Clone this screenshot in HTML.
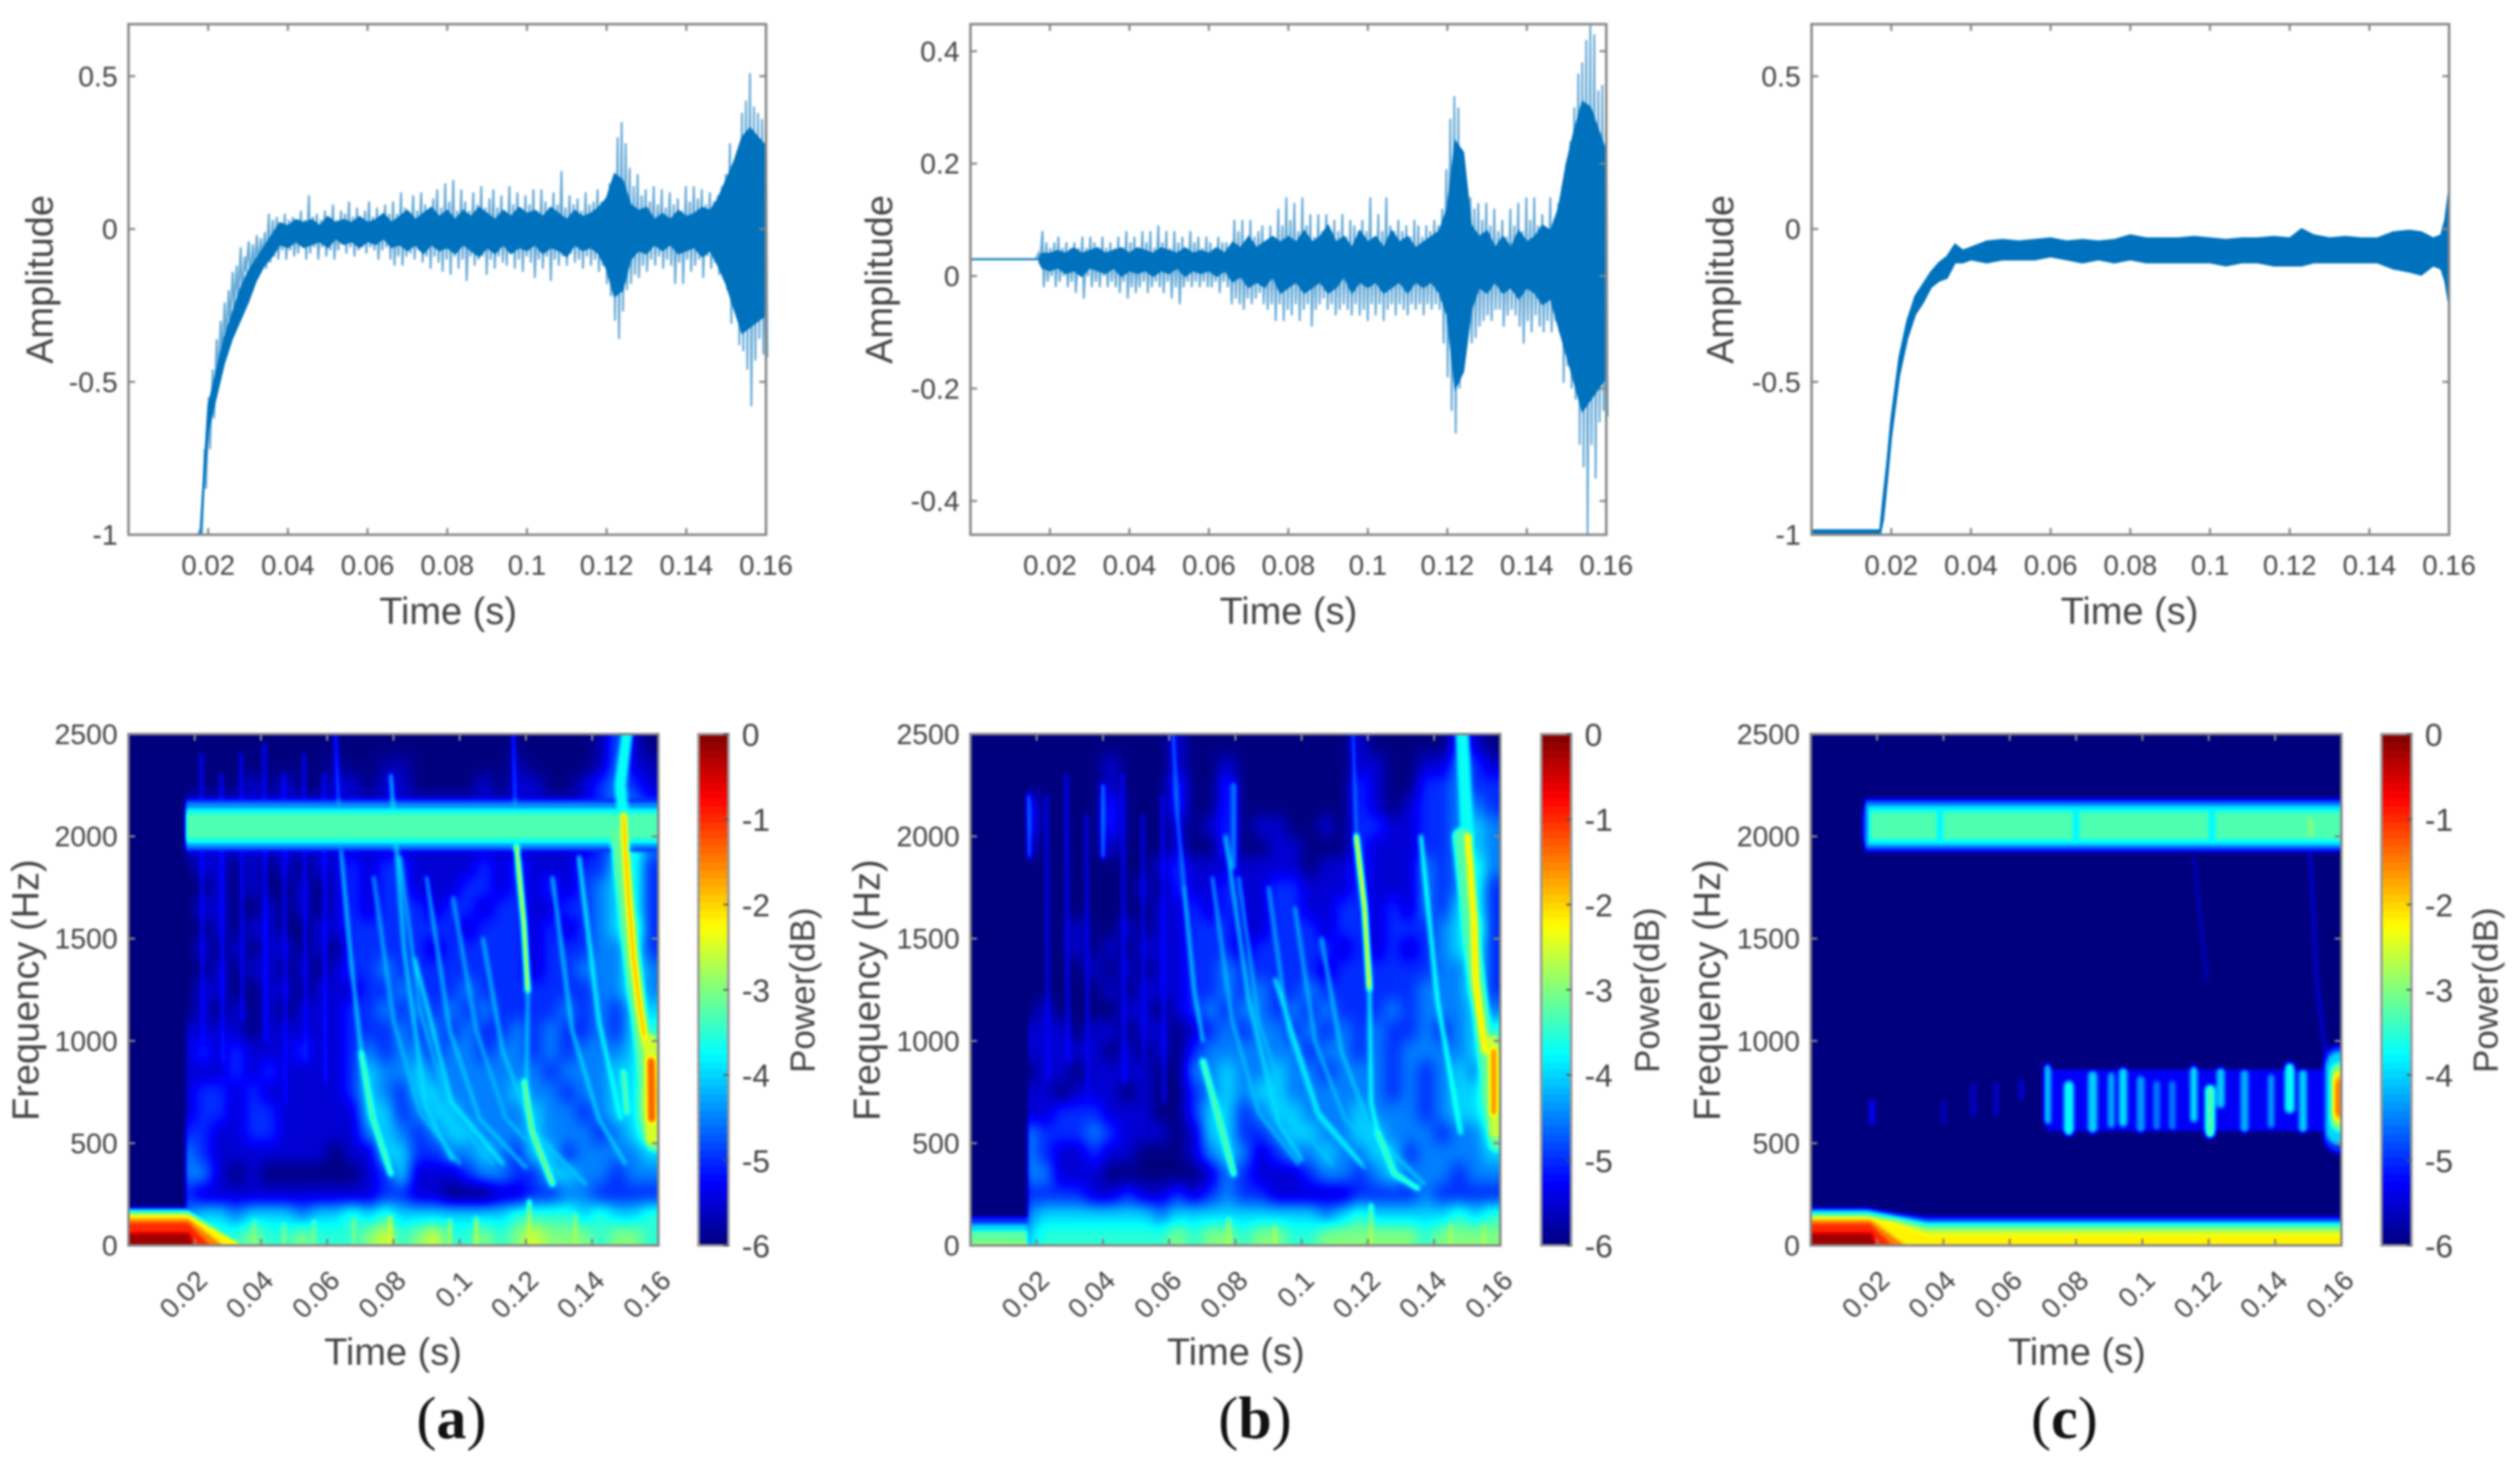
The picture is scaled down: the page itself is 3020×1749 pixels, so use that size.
<!DOCTYPE html>
<html><head><meta charset="utf-8"><title>Waveforms and spectrograms</title>
<style>
html,body{margin:0;padding:0;background:#fff}
#figure{display:block;filter:blur(1.4px)}
text{font-family:"Liberation Sans",sans-serif;fill:#444}
.title{font-size:45.5px;text-anchor:middle}
.power{font-size:42px;text-anchor:middle}
.cap{font-family:"Liberation Serif",serif;font-size:72px;text-anchor:middle;fill:#111}
.cap tspan{font-family:"Liberation Serif",serif;font-weight:bold;fill:#111}
</style></head>
<body>
<svg id="figure" xmlns="http://www.w3.org/2000/svg" width="3020" height="1749" viewBox="0 0 3020 1749">
<rect width="3020" height="1749" fill="#fff"/>
<defs id="defs"></defs>
<g id="plots"></g>
<text class="title" transform="translate(63,335) rotate(-90)">Amplitude</text>
<text class="title" transform="translate(1069,335) rotate(-90)">Amplitude</text>
<text class="title" transform="translate(2077,335) rotate(-90)">Amplitude</text>
<text class="title" x="537" y="748">Time (s)</text>
<text class="title" x="1544" y="748">Time (s)</text>
<text class="title" x="2552" y="748">Time (s)</text>
<text class="title" transform="translate(46,1187) rotate(-90)">Frequency (Hz)</text>
<text class="title" transform="translate(1054,1187) rotate(-90)">Frequency (Hz)</text>
<text class="title" transform="translate(2061,1187) rotate(-90)">Frequency (Hz)</text>
<text class="title" x="471" y="1636">Time (s)</text>
<text class="title" x="1481" y="1636">Time (s)</text>
<text class="title" x="2489" y="1636">Time (s)</text>
<text class="power" transform="translate(976,1187) rotate(-90)">Power(dB)</text>
<text class="power" transform="translate(1988,1187) rotate(-90)">Power(dB)</text>
<text class="power" transform="translate(2993,1187) rotate(-90)">Power(dB)</text>
<text class="cap" x="541" y="1724">(<tspan>a</tspan>)</text>
<text class="cap" x="1504" y="1724">(<tspan>b</tspan>)</text>
<text class="cap" x="2474" y="1724">(<tspan>c</tspan>)</text>
</svg>
<script>
const timeTicks=[0.02,0.04,0.06,0.08,0.1,0.12,0.14,0.16];
const timeTickLabels=['0.02','0.04','0.06','0.08','0.1','0.12','0.14','0.16'];
const ampTicksAC=[-1,-0.5,0,0.5];
const ampLabelsAC=['-1','-0.5','0','0.5'];
const ampTicksB=[-0.4,-0.2,0,0.2,0.4];
const ampLabelsB=['-0.4','-0.2','0','0.2','0.4'];
const freqTicks=[0,500,1000,1500,2000,2500];
const freqLabels=['0','500','1000','1500','2000','2500'];
const powerTicks=[0,-1,-2,-3,-4,-5,-6];
const powerLabels=['0','-1','-2','-3','-4','-5','-6'];

const upperA=[-1,-1,-1,-1,-1,-1,-1,-1,-1,-1,-1,-1,-1,-1,-1,-1,-1,-1,
-.98,-.72,-.55,-.46,-.36,-.3,-.24,-.2,-.14,-.12,
-.06,-.09,-.04,-.05,-.02,-.03,-.01,.05,.03,.04,
.02,.05,.03,.04,.02,.06,.03,.11,.04,.05,
.03,.06,.03,.08,.03,.06,.05,.09,.04,.07,
.03,.06,.09,.04,.07,.04,.08,.05,.09,.05,
.12,.07,.05,.11,.06,.12,.08,.05,.1,.13,
.07,.15,.09,.16,.06,.13,.09,.06,.12,.08,
.14,.07,.1,.13,.07,.11,.06,.14,.08,.12,
.07,.11,.08,.13,.06,.13,.09,.07,.12,.08,
.19,.07,.11,.08,.1,.06,.12,.08,.09,.13,
.09,.1,.15,.17,.3,.35,.28,.2,.14,.18,
.11,.13,.09,.14,.08,.13,.07,.12,.08,.1,
.06,.14,.09,.14,.1,.13,.08,.12,.09,.11,
.14,.18,.28,.2,.26,.38,.42,.51,.4,.38,.36,.42];
const lowerA=[-1,-1,-1,-1,-1,-1,-1,-1,-1,-1,-1,-1,-1,-1,-1,-1,-1,-1,
-1,-.85,-.72,-.62,-.5,-.42,-.38,-.32,-.26,-.24,
-.22,-.14,-.17,-.14,-.12,-.1,-.13,-.11,-.09,-.1,
-.07,-.1,-.07,-.09,-.08,-.06,-.1,-.08,-.06,-.1,
-.06,-.09,-.07,-.1,-.07,-.05,-.08,-.06,-.09,-.07,
-.06,-.08,-.06,-.07,-.1,-.07,-.06,-.1,-.12,-.09,
-.12,-.09,-.08,-.1,-.07,-.11,-.09,-.13,-.09,-.11,
-.14,-.1,-.15,-.09,-.13,-.1,-.17,-.09,-.12,-.1,
-.09,-.15,-.1,-.13,-.09,-.11,-.12,-.08,-.13,-.1,
-.14,-.09,-.11,-.16,-.1,-.13,-.09,-.17,-.1,-.12,
-.09,-.12,-.08,-.11,-.1,-.13,-.09,-.12,-.1,-.14,
-.12,-.18,-.22,-.3,-.36,-.27,-.2,-.18,-.15,-.16,
-.12,-.14,-.1,-.12,-.09,-.13,-.1,-.12,-.18,-.11,
-.18,-.1,-.14,-.12,-.1,-.16,-.09,-.13,-.11,-.15,
-.16,-.2,-.31,-.24,-.38,-.4,-.46,-.58,-.43,-.36,-.41,-.42];
const coreTimeA=[0,.018,.02,.022,.024,.026,.028,.03,.032,.034,.036,
.038,.04,.042,.044,.046,.048,.05,.052,.054,.056,.058,.06,
.062,.064,.066,.068,.07,.072,.074,.076,.078,.08,
.082,.084,.086,.088,.09,.092,.094,.096,.098,.1,
.102,.104,.106,.108,.11,.112,.114,.116,.118,
.12,.122,.124,.126,.128,.13,
.132,.134,.136,.138,.14,.142,.144,.146,
.148,.15,.152,.154,.156,.158,.16];
const coreUpperA=[-1,-1,-.58,-.47,-.36,-.28,-.2,-.14,-.1,-.06,-.02,
.02,.01,.03,.02,.03,.01,.04,.02,.03,.02,.04,.02,
.03,.05,.02,.04,.06,.03,.05,.07,.04,.06,
.03,.06,.04,.07,.05,.03,.06,.04,.07,.05,
.06,.04,.07,.05,.03,.06,.04,.05,.07,
.1,.18,.16,.08,.06,.07,
.03,.05,.03,.06,.04,.05,.07,.06,
.1,.16,.22,.3,.33,.3,.27];
const coreLowerA=[-1,-1,-.66,-.55,-.44,-.36,-.3,-.24,-.17,-.12,-.09,
-.05,-.06,-.04,-.06,-.05,-.04,-.06,-.03,-.05,-.04,-.06,-.04,
-.05,-.03,-.06,-.05,-.07,-.05,-.08,-.05,-.07,-.06,
-.08,-.05,-.07,-.09,-.06,-.08,-.05,-.08,-.06,-.07,
-.05,-.08,-.06,-.07,-.09,-.05,-.07,-.06,-.08,
-.13,-.22,-.2,-.1,-.07,-.08,
-.05,-.07,-.05,-.08,-.07,-.06,-.09,-.07,
-.12,-.18,-.26,-.34,-.32,-.3,-.28];

const upperB=[.03,.03,.03,.03,.03,.03,.03,.03,.03,.03,.03,.03,.03,.03,.03,.03,.03,
.04,.08,.06,.05,.06,.07,.05,.06,.05,.06,.05,
.07,.05,.07,.06,.05,.07,.05,.06,.05,.07,
.05,.08,.06,.07,.05,.08,.06,.08,.05,.09,
.06,.08,.05,.08,.06,.07,.05,.08,.06,.07,
.05,.07,.06,.05,.07,.06,.06,.05,.1,.08,
.1,.06,.1,.07,.08,.09,.06,.09,.07,.12,
.09,.14,.1,.13,.08,.14,.09,.11,.07,.11,
.08,.11,.07,.1,.08,.11,.07,.1,.09,.08,
.1,.08,.14,.07,.11,.08,.14,.09,.08,.1,
.08,.09,.07,.1,.09,.07,.09,.08,.1,.09,
.12,.19,.28,.32,.3,.2,.16,.14,.12,.13,
.1,.13,.09,.12,.08,.1,.07,.12,.09,.13,
.08,.14,.1,.14,.09,.11,.08,.14,.1,.13,
.16,.2,.24,.3,.36,.38,.42,.45,.43,.33,.34,.32];
const lowerB=[.03,.03,.03,.03,.03,.03,.03,.03,.03,.03,.03,.03,.03,.03,.03,.03,.03,
.02,-.02,-.01,0,-.02,-.01,0,-.02,-.01,-.03,0,
-.04,0,-.02,-.01,-.02,0,-.02,-.01,-.02,-.03,
-.01,-.04,-.02,-.03,-.02,-.01,-.03,-.02,-.01,-.02,
-.03,-.01,-.04,-.02,-.05,-.02,-.01,-.02,-.01,-.02,
-.01,-.02,-.02,-.01,-.03,-.01,-.02,-.05,-.04,-.05,
-.06,-.04,-.05,-.04,-.03,-.05,-.06,-.05,-.08,-.05,
-.08,-.06,-.07,-.05,-.08,-.06,-.05,-.09,-.06,-.05,
-.04,-.06,-.05,-.07,-.06,-.05,-.06,-.07,-.05,-.07,
-.06,-.08,-.05,-.07,-.05,-.08,-.06,-.05,-.07,-.05,
-.06,-.07,-.05,-.06,-.05,-.07,-.05,-.06,-.05,-.06,
-.12,-.18,-.24,-.28,-.2,-.15,-.1,-.12,-.11,-.09,
-.08,-.07,-.08,-.06,-.06,-.09,-.07,-.06,-.07,-.09,
-.12,-.08,-.1,-.07,-.09,-.1,-.08,-.1,-.08,-.1,
-.19,-.16,-.2,-.22,-.3,-.34,-.46,-.3,-.36,-.26,-.24,-.25];
const coreTimeB=[0,.0172,.018,
.02,.022,.024,.026,.028,.03,.032,.034,.036,.038,.04,.042,.044,.046,.048,.05,.052,.054,.056,.058,.06,
.062,.064,.066,.068,.07,.072,.074,.076,.078,.08,
.082,.084,.086,.088,.09,.092,.094,.096,.098,.1,
.102,.104,.106,.108,.11,.112,.114,.116,.118,
.12,.122,.124,.126,.128,.13,
.132,.134,.136,.138,.14,.142,.144,.146,
.148,.15,.152,.154,.156,.158,.16];
const coreUpperB=[.03,.03,.04,
.04,.045,.04,.05,.04,.045,.05,.04,.045,.05,.04,.05,.045,.04,.05,.045,.04,.05,.04,.045,.04,
.05,.04,.06,.05,.07,.05,.06,.07,.06,.07,
.06,.08,.06,.07,.09,.06,.07,.05,.08,.06,
.07,.05,.08,.06,.07,.05,.06,.07,.08,
.12,.24,.22,.09,.07,.08,
.05,.07,.05,.08,.06,.07,.09,.08,
.12,.2,.26,.31,.3,.26,.22];
const coreLowerB=[.03,.03,.015,
.01,.015,.005,.01,0,.015,.01,.005,.015,0,.01,.005,.01,0,.01,.005,.015,0,.01,.005,.01,
0,.01,-.01,0,-.02,-.01,-.02,0,-.03,-.02,
-.01,-.03,-.02,-.01,-.03,-.02,0,-.03,-.01,-.02,
-.01,-.03,-.02,-.01,-.03,-.01,-.02,-.01,-.03,
-.07,-.2,-.17,-.06,-.02,-.03,
-.01,-.03,-.02,-.04,-.02,-.03,-.05,-.04,
-.09,-.14,-.19,-.24,-.22,-.2,-.18];

const coreTimeC=[0,.0172,.018,.019,.02,.022,.024,.026,.028,.03,.032,.034,.036,.038,.04,.044,.048,.052,.056,.06,.064,.068,.072,.076,.08,.084,.088,.092,.096,.1,.104,.108,.112,.116,.12,.123,.126,.13,.134,.138,.142,.146,.15,.153,.156,.158,.159,.16];
const coreUpperC=[-.985,-.985,-.88,-.76,-.62,-.42,-.3,-.22,-.18,-.14,-.11,-.09,-.05,-.07,-.06,-.04,-.035,-.04,-.035,-.03,-.04,-.035,-.04,-.035,-.02,-.03,-.03,-.03,-.025,-.03,-.035,-.03,-.03,-.025,-.03,0,-.02,-.03,-.025,-.03,-.03,-.01,-.005,-.01,-.03,-.02,.03,.13];
const coreLowerC=[-1,-1,-.95,-.82,-.68,-.48,-.36,-.28,-.24,-.19,-.17,-.16,-.11,-.11,-.1,-.11,-.1,-.1,-.1,-.09,-.1,-.11,-.1,-.11,-.1,-.11,-.11,-.11,-.11,-.11,-.12,-.11,-.11,-.12,-.12,-.12,-.11,-.11,-.11,-.11,-.11,-.13,-.14,-.15,-.12,-.13,-.17,-.25];

const cellStart=0.015;
const cellStep=0.005;
const rowStep=100;
const cellCalibration=-0.5;
const powerA=[
[-6,-6,-6,-5.7,-5.7,-5.5,-6,-6,-6,-5.5,-6,-6,-5.7,-5.5,-6,-5.7,-6,-5.7,-5.7,-6,-5.5,-5.7,-5.7,-5.7,-5.7,-5.3,-4.2,-5,-5.5],
[-6,-5.8,-5.7,-5.5,-5.5,-5.5,-5.7,-5.5,-5.7,-5.3,-5.7,-5.7,-5.3,-5.2,-5.5,-5.5,-5.7,-5.5,-5.5,-5.7,-5.2,-5.5,-5.5,-5.5,-5.5,-5.2,-4.1,-4.9,-5.2],
[-5.5,-5.5,-5.5,-5.5,-5,-5.5,-5,-5.5,-5.5,-5,-5,-5.5,-5,-5,-5.5,-5.5,-5.5,-5.5,-5,-5.5,-5,-5,-5.5,-5.5,-5,-4.5,-4,-4.5,-5],
[-5,-5,-5,-5,-5,-5,-5,-5,-5,-5,-5,-5,-5,-5,-5,-5,-5,-5,-5,-5,-5,-5,-5,-5,-5,-4.5,-4,-4,-4.5],
[-5,-5,-5,-5,-5,-5,-5,-5,-5,-5,-5,-5,-5,-5,-5,-5,-5,-5,-5,-5,-5,-5,-5,-5,-5,-4.5,-4,-3.5,-4],
[-5,-5,-5,-5,-5,-5,-5,-5,-5,-5,-5,-5,-5,-5,-5,-5,-5,-5,-5,-5,-5,-5,-5,-5,-5,-4.5,-4,-3,-4],
[-5.5,-5,-5,-5.5,-5,-5.5,-5,-5.5,-5,-5,-4.5,-5,-4.5,-4.5,-5,-5,-5,-5,-4.5,-5,-4.5,-5,-5,-5,-4.5,-4.5,-3.5,-3,-4.5],
[-5.5,-5.5,-5,-5.5,-5,-5.5,-5.5,-5,-5.5,-5,-4.5,-5,-4.5,-4.5,-5,-5,-5,-4.5,-4.5,-5,-4.5,-5,-4.5,-5,-4.5,-4,-3.5,-3,-4.5],
[-5.5,-5,-5,-5.5,-5.5,-5,-5.5,-5,-5.5,-5,-4.5,-5,-4.5,-4.5,-4.5,-5,-4.5,-4.5,-5,-4.5,-4.5,-5,-5,-4.5,-4.5,-4,-3.5,-3,-4.5],
[-5.5,-5.5,-5,-5.5,-5,-5,-5.5,-5.5,-5,-5,-4.5,-4.5,-4.5,-4.5,-4.5,-4.5,-4.5,-5,-4.5,-4.5,-4.5,-5,-4.5,-5,-4.5,-4,-3.5,-2.5,-4.5],
[-5.5,-5,-5.5,-5,-5.5,-5,-5,-5.5,-5,-5.5,-4.5,-4.5,-4.5,-4.5,-4.5,-5,-4.5,-4.5,-4.5,-4.5,-4.5,-5,-4.5,-4.5,-4.5,-4,-4,-3,-4.5],
[-5.5,-5.5,-5,-5.5,-5,-5,-5.5,-5,-5.5,-5,-4.5,-4.5,-4,-4.5,-4.5,-4.5,-4.5,-4.5,-4.5,-4.5,-4.5,-5,-4.5,-4.5,-4,-4,-4,-3,-4],
[-5.5,-5,-5,-5.5,-5.5,-5,-5,-5.5,-5,-5,-5,-4.5,-4.5,-4,-4.5,-4.5,-4.5,-4,-4.5,-4.5,-4.5,-4.5,-4.5,-4.5,-4.5,-4,-4,-3,-4],
[-5.5,-5,-5.5,-5,-5.5,-5,-5.5,-5,-5,-5,-4.5,-4.5,-4,-4.5,-4,-4.5,-4,-4.5,-4,-4.5,-4.5,-4.5,-4.5,-4,-4.5,-4,-4.5,-3.5,-3.5],
[-5,-5,-5,-5,-5.5,-5,-5,-5,-5,-5,-4.5,-4.5,-4.5,-4,-4.5,-4,-4.5,-4,-4.5,-4.5,-4,-4.5,-4,-4.5,-4.5,-4,-4.5,-3.5,-3],
[-5,-4.5,-5,-4.5,-5,-5,-5,-4.5,-5,-5,-4.5,-4,-4.5,-4,-4,-4.5,-4,-4,-4.5,-4,-4,-4.5,-4,-4.5,-4,-4,-4,-3.5,-2.5],
[-5,-5,-5,-4.5,-5,-4.5,-5,-5,-5,-5,-4.5,-3.5,-4,-4,-3.5,-4,-4,-4,-4,-4,-4,-4,-4.5,-4,-4,-4,-3.5,-3.5,-2],
[-5,-4.5,-4.5,-5,-4.5,-5,-5,-5,-5,-5,-4.5,-3.5,-4,-4.5,-3.5,-3.5,-4,-4,-4,-4,-3.5,-4,-4,-4.5,-4,-4,-3.5,-3.5,-1.5],
[-5,-4.5,-4.5,-5,-4.5,-4.5,-5,-5,-5,-5,-5,-3.5,-3.5,-4.5,-4,-3.5,-3.5,-4,-4,-4,-4,-3.5,-4,-4,-4.5,-4,-3.5,-3.5,-1.5],
[-4.5,-4.5,-5,-5,-4.5,-4.5,-5,-5,-5,-5,-5,-4,-3.5,-4,-4.5,-4,-3.5,-3.5,-4,-4,-4,-3.5,-4,-4,-4,-4.5,-4,-3.5,-2.5],
[-4,-4.5,-5,-5,-5,-5,-5,-5,-5,-5.5,-5,-5,-3.5,-3.5,-4.5,-4.5,-4,-4,-3.5,-4,-4.5,-3.5,-3.5,-4.5,-4,-4,-4,-4,-3.5],
[-4,-4,-5,-5.5,-5,-5.5,-5.5,-5.5,-5.5,-5.5,-5.5,-5,-4.5,-3.5,-5,-5,-5,-4.5,-4,-4,-4.5,-4.5,-3.5,-3.5,-4,-4,-4.5,-4,-4],
[-4.5,-5,-5,-5,-5,-5,-5,-5,-5,-5,-5,-5,-4.5,-4.5,-5,-5,-5.5,-5.5,-5.5,-5,-5,-4.5,-4.5,-4,-4,-4.5,-4.5,-4.5,-4.5],
[-4.5,-4,-4,-4.5,-4,-4,-4,-4.5,-4,-4,-3.5,-4,-3.5,-4,-4,-4,-4,-4,-4,-4,-3.5,-3.5,-3.5,-3.5,-4,-3.5,-4,-4,-3.5],
[-4.5,-3.5,-3.5,-3.5,-3,-3.5,-3.5,-3,-3.5,-3.5,-3.5,-3,-2.5,-3.5,-3,-2.5,-3.5,-3.5,-3,-3.5,-3,-2.5,-3,-3,-3,-3.5,-3,-3,-3.5]];
const powerB=[
[-6,-6,-6,-5.5,-6,-5.5,-6,-6,-6,-5,-6,-6,-5.5,-5.5,-6,-5.5,-6,-5.5,-6,-6,-5,-5.5,-6,-5.5,-6,-5.5,-4.5,-5,-5.5],
[-6,-5.5,-6,-5.5,-6,-5,-5.5,-6,-5.5,-5,-5.5,-6,-5,-5.5,-5.5,-5.5,-5.5,-5.5,-5.5,-6,-5,-5,-5.5,-5.5,-5,-5,-4,-4.5,-5],
[-5.5,-5.5,-5.5,-5.5,-6,-5,-5.5,-5.5,-5.5,-4.5,-5.5,-5.5,-4.5,-5.5,-5.5,-5.5,-5.5,-5.5,-5.5,-5.5,-4.5,-5,-5.5,-5.5,-4.5,-4.5,-4,-4.5,-4.5],
[-4.5,-5.5,-5.5,-5.5,-5.5,-4.5,-5.5,-5.5,-5.5,-4.5,-5.5,-5.5,-4.5,-5.5,-5.5,-5.5,-5.5,-5.5,-5.5,-5.5,-4.5,-5,-5.5,-5,-4.5,-4.5,-4,-4,-4.5],
[-4.5,-5.5,-5.5,-5.5,-5.5,-4.5,-5.5,-5.5,-5.5,-5,-5.5,-5,-4.5,-5.5,-5,-5,-5.5,-5.5,-5,-5.5,-4.5,-4.5,-5,-5,-4.5,-4.5,-4,-3.5,-4],
[-5,-5.5,-5.5,-5.5,-5.5,-5,-5.5,-5.5,-5.5,-5,-5.5,-5.5,-4.5,-5.5,-5.5,-5,-5,-5.5,-5.5,-5.5,-4.5,-5,-5,-5,-4.5,-4.5,-4,-3.5,-4],
[-5.5,-5.5,-5.5,-5.5,-5.5,-5.5,-5.5,-5.5,-5,-4.5,-5,-5,-5,-5,-5,-5,-5,-5.5,-5,-5,-4.5,-5,-5,-5,-4,-4.5,-4,-3,-4],
[-5.5,-5.5,-5.5,-5.5,-5.5,-5.5,-5.5,-5,-5.5,-4.5,-5,-5,-4.5,-5,-5,-4.5,-4.5,-5,-5,-5,-4.5,-5,-5,-5,-4,-4.5,-4,-3,-4.5],
[-5.5,-5.5,-5.5,-5.5,-5.5,-5.5,-5.5,-5.5,-5,-5,-4.5,-5,-4.5,-5,-5,-4.5,-4.5,-5,-5,-4.5,-4.5,-5,-4.5,-5,-4,-4.5,-3.5,-3,-4.5],
[-5.5,-5.5,-5.5,-5,-5.5,-5.5,-5,-5.5,-5,-5,-4.5,-4.5,-4.5,-5,-5,-4.5,-4.5,-4.5,-5,-4.5,-4.5,-5,-4.5,-4.5,-4.5,-4,-3.5,-2.5,-4.5],
[-5.5,-5.5,-5.5,-5,-5.5,-5,-5.5,-5,-5,-5,-4.5,-4.5,-4.5,-5,-4.5,-4.5,-4.5,-4.5,-4.5,-5,-4.5,-5,-4.5,-5,-4.5,-4,-3.5,-3,-4.5],
[-5.5,-5.5,-5.5,-5.5,-5,-5.5,-5,-5.5,-5,-5,-4.5,-4.5,-4,-4.5,-4.5,-4.5,-4.5,-4.5,-5,-4.5,-4.5,-4.5,-4.5,-4.5,-4.5,-4,-4,-3,-4.5],
[-5.5,-5.5,-5.5,-5.5,-5.5,-5,-5.5,-5,-5,-5,-4.5,-4.5,-4,-4.5,-4,-4.5,-4.5,-4,-4.5,-4.5,-4.5,-4.5,-4.5,-4.5,-4,-4,-4,-3,-4.5],
[-5.5,-5,-5.5,-5.5,-5.5,-5.5,-5,-5,-5.5,-5,-4.5,-4,-4.5,-4,-4,-4.5,-4,-4.5,-4,-4.5,-4.5,-4.5,-4,-4.5,-4,-4,-4,-3.5,-4],
[-5,-5,-5,-5.5,-5,-5,-5.5,-5,-5,-5.5,-5,-4.5,-4,-4.5,-4,-4,-4.5,-4,-4.5,-4,-4.5,-4,-4.5,-4.5,-4,-4.5,-4,-3.5,-3],
[-5,-5,-5,-5,-5,-5.5,-5,-5.5,-5,-5.5,-4.5,-4,-4,-4,-4,-4,-4,-4.5,-4,-4,-4.5,-4,-4.5,-4,-4,-4,-4,-3.5,-2.5],
[-5.5,-5,-5,-5.5,-5,-5,-5,-5,-5.5,-5.5,-4,-4,-3.5,-4,-4,-3.5,-4,-4,-4.5,-4,-4,-4,-4.5,-4,-4.5,-4,-3.5,-4,-2],
[-5,-5,-5.5,-5,-5,-5,-5.5,-5,-5.5,-5.5,-4.5,-4,-3.5,-4,-3.5,-3.5,-4,-4,-4,-4,-4,-4,-4.5,-4,-4.5,-4,-3.5,-3.5,-2],
[-5,-5,-4.5,-4.5,-4.5,-5,-5,-5,-5.5,-5.5,-4.5,-3.5,-3.5,-4.5,-4,-3.5,-3.5,-4,-4,-4,-3.5,-4,-4,-4,-4.5,-4,-3.5,-3.5,-2.5],
[-4,-4.5,-4.5,-4.5,-4,-4.5,-5,-5,-5,-5.5,-5,-3.5,-3.5,-4.5,-4.5,-4,-3.5,-3.5,-4,-4,-3.5,-3.5,-4,-4,-4,-4.5,-4,-4,-3],
[-4,-4.5,-5,-5,-4.5,-5,-5,-5.5,-5.5,-5.5,-5,-4,-3.5,-4,-5,-4.5,-4,-4,-3.5,-4,-4,-3.5,-3.5,-4.5,-4,-4,-4,-4,-3.5],
[-4,-4,-5,-5,-5,-5.5,-5.5,-5.5,-5.5,-5.5,-5.5,-5,-4,-4.5,-5,-5,-5,-4.5,-4,-4,-4.5,-4,-3.5,-4,-4,-4,-4.5,-4,-4],
[-4.5,-4.5,-4.5,-4.5,-5,-5,-4.5,-5,-5,-4.5,-5,-4.5,-4,-4.5,-4.5,-5,-5,-5,-5,-5,-4.5,-4.5,-4.5,-4.5,-4,-4.5,-4.5,-4.5,-4.5],
[-4.5,-4,-4,-4,-4,-4,-4,-4,-4.5,-4,-4,-4,-4,-4,-4,-4,-4,-4,-4.5,-4,-3.5,-4,-4,-4,-4,-4,-3.5,-4,-3.5],
[-4,-3.5,-3.5,-3.5,-3.5,-3.5,-3.5,-3.5,-3.5,-3,-3.5,-3,-3,-3.5,-3,-3,-3.5,-3.5,-3,-3,-3,-3,-3,-3,-3.5,-3,-3,-3,-3]];
const powerC=[];

const bandsA=[
{p:-6,t:[0,.0172],lo:[0,0],hi:[2500,2500]},
{p:-4.5,t:[0,.0172],lo:[0,0],hi:[185,185]},
{p:-3.5,t:[0,.018,.0345],lo:[0,0,0],hi:[172,172,10]},
{p:-3,t:[0,.018,.0345],lo:[0,0,0],hi:[160,160,0]},
{p:-2.2,t:[0,.018,.0343],lo:[0,0,0],hi:[150,150,0]},
{p:-1.5,t:[0,.018,.0285],lo:[0,0,0],hi:[130,130,0]},
{p:-1,t:[0,.018,.0245],lo:[0,0,0],hi:[110,110,0]},
{p:-.2,t:[0,.0184,.0195],lo:[0,0,0],hi:[60,60,0]},
{p:-5,t:[.0172,.16],lo:[1925,1925],hi:[2185,2185]},
{p:-4.4,t:[.0172,.16],lo:[1940,1940],hi:[2165,2165]},
{p:-3.7,t:[.0172,.16],lo:[1965,1965],hi:[2135,2135]},
{p:-3.3,t:[.0172,.16],lo:[1990,1990],hi:[2110,2110]}];
const bandsB=[
{p:-6,t:[0,.0172],lo:[0,0],hi:[2500,2500]},
{p:-5,t:[0,.0172],lo:[0,0],hi:[140,140]},
{p:-4,t:[0,.0172],lo:[0,0],hi:[105,105]},
{p:-3.2,t:[0,.0172],lo:[0,0],hi:[70,70]},
{p:-2.8,t:[0,.0172],lo:[0,0],hi:[15,15]}];
const bandsC=[
{p:-5,t:[0,.017,.026,.035,.16],lo:[0,0,0,0,0],hi:[185,185,160,142,142]},
{p:-4,t:[0,.017,.026,.035,.16],lo:[0,0,0,0,0],hi:[172,172,145,118,118]},
{p:-3.5,t:[0,.017,.026,.035,.16],lo:[0,0,0,0,0],hi:[160,160,135,105,105]},
{p:-3,t:[0,.017,.026,.035,.16],lo:[0,0,0,0,0],hi:[150,150,125,90,90]},
{p:-2.6,t:[0,.017,.026,.035,.16],lo:[0,0,0,0,0],hi:[142,142,115,72,72]},
{p:-2.2,t:[0,.017,.026,.035,.16],lo:[0,0,0,0,0],hi:[135,135,105,55,55]},
{p:-1.5,t:[0,.018,.0285],lo:[0,0,0],hi:[125,125,0]},
{p:-1,t:[0,.018,.0245],lo:[0,0,0],hi:[105,105,0]},
{p:-.2,t:[0,.0184,.0195],lo:[0,0,0],hi:[60,60,0]},
{p:-5.3,t:[.071,.155],lo:[560,560],hi:[860,860]},
{p:-5,t:[.0155,.0165,.17],lo:[2000,1925,1925],hi:[2100,2185,2185]},
{p:-4.4,t:[.0165,.17],lo:[1945,1945],hi:[2165,2165]},
{p:-3.8,t:[.0172,.17],lo:[1960,1960],hi:[2145,2145]},
{p:-3.3,t:[.018,.038],lo:[1985,1985],hi:[2120,2120]},
{p:-3.3,t:[.04,.079],lo:[1985,1985],hi:[2120,2120]},
{p:-3.3,t:[.081,.12],lo:[1985,1985],hi:[2120,2120]},
{p:-3.3,t:[.122,.17],lo:[1985,1985],hi:[2120,2120]}];

const ridgesA=[
{t:[.022,.0225],f:[2400,1000],p:-5,w:.8},
{t:[.028,.0285],f:[2300,900],p:-4.9,w:.8},
{t:[.034,.0345],f:[2400,1100],p:-5,w:.8},
{t:[.041,.0415],f:[2450,1000],p:-4.9,w:.8},
{t:[.047,.0475],f:[2300,700],p:-5,w:.8},
{t:[.053,.0535],f:[2400,900],p:-5,w:.8},
{t:[.059,.0595],f:[2300,800],p:-4.9,w:.8},
{t:[.074,.08,.088,.1],f:[1800,1100,650,400],p:-4.1,w:1},
{t:[.082,.088,.097,.11],f:[1900,1150,650,400],p:-4.1,w:1},
{t:[.09,.097,.106,.12],f:[1800,1050,620,380],p:-4,w:1},
{t:[.098,.105,.114,.13],f:[1700,1050,620,350],p:-4.1,w:1},
{t:[.107,.113,.122,.138],f:[1500,950,560,300],p:-4,w:1},
{t:[.128,.134,.142,.15],f:[1800,1050,620,400],p:-3.9,w:1},
{t:[.0625,.064],f:[2500,1950],p:-4.2,w:.7},
{t:[.0642,.0671,.0703],f:[1925,1408,940],p:-3.7,w:.9},
{t:[.0703,.0736,.0792],f:[940,630,350],p:-3.2,w:1.6},
{t:[.1162,.117],f:[2500,2000],p:-4.2,w:.7},
{t:[.1172,.1194,.1206],f:[1950,1570,1240],p:-1.8,w:1.2},
{t:[.1206,.1202],f:[1240,800],p:-3.8,w:.8},
{t:[.1195,.1218,.128],f:[800,560,300],p:-2.9,w:1.5},
{t:[.0792,.0832,.0897,.0977],f:[2300,1450,680,420],p:-3.9,w:1.1},
{t:[.0865,.0975,.113],f:[1400,700,400],p:-3.8,w:1.1},
{t:[.136,.142,.1485],f:[1900,1100,620],p:-3.5,w:1},
{t:[.1505,.1485,.15],f:[2500,2250,2000],p:-3.7,w:3.5},
{t:[.148,.152,.156,.159],f:[2000,1400,900,500],p:-3.2,w:5},
{t:[.1495,.151,.1525,.1545,.1565],f:[2100,1700,1400,1150,950],p:-1.9,w:2},
{t:[.1575,.158],f:[1000,520],p:-2.5,w:4},
{t:[.1578,.158],f:[900,620],p:-1.3,w:2.5},
{t:[.1495,.1505],f:[850,650],p:-3,w:1.2},
{t:[.038,.038],f:[0,120],p:-2.8,w:.7},
{t:[.047,.047],f:[0,100],p:-2.6,w:.7},
{t:[.056,.056],f:[0,120],p:-2.8,w:.7},
{t:[.068,.068],f:[0,130],p:-2.7,w:.7},
{t:[.079,.079],f:[0,140],p:-2.2,w:.8},
{t:[.097,.097],f:[0,120],p:-2.4,w:.8},
{t:[.105,.105],f:[0,130],p:-2.3,w:.8},
{t:[.121,.121],f:[0,220],p:-2.5,w:.8},
{t:[.135,.135],f:[0,150],p:-2.6,w:.8}];
const ridgesB=[
{t:[.023,.0235],f:[2200,800],p:-5.1,w:.8},
{t:[.029,.0295],f:[2300,900],p:-5,w:.8},
{t:[.035,.0355],f:[2100,700],p:-5.1,w:.8},
{t:[.046,.0465],f:[2300,800],p:-5,w:.8},
{t:[.052,.0525],f:[2100,900],p:-5.1,w:.8},
{t:[.058,.0585],f:[2200,700],p:-5,w:.8},
{t:[.0175,.0178],f:[2200,1900],p:-4.4,w:1},
{t:[.04,.04],f:[2250,1900],p:-4.3,w:1.2},
{t:[.0795,.0795],f:[2250,1850],p:-4.5,w:1.8},
{t:[.073,.079,.087,.099],f:[1800,1100,650,400],p:-4.1,w:1},
{t:[.081,.087,.096,.109],f:[1800,1100,650,400],p:-4.1,w:1},
{t:[.09,.096,.105,.119],f:[1750,1050,620,380],p:-4.1,w:1},
{t:[.098,.104,.113,.129],f:[1650,1000,620,350],p:-4.1,w:1},
{t:[.106,.112,.121,.137],f:[1500,950,560,300],p:-4,w:1},
{t:[.0612,.0625,.0645],f:[2500,2100,1750],p:-4.3,w:1},
{t:[.0645,.0675,.0702],f:[1750,1250,1000],p:-3.7,w:.9},
{t:[.0702,.0745,.0795],f:[900,650,350],p:-3.2,w:1.8},
{t:[.1155,.1165],f:[2500,2000],p:-4.2,w:.8},
{t:[.1165,.119,.1205],f:[2000,1650,1250],p:-1.7,w:1.3},
{t:[.1205,.121,.123],f:[1250,700,550],p:-3.4,w:.9},
{t:[.123,.128,.135],f:[550,350,280],p:-3.3,w:1.6},
{t:[.077,.084,.093,.1],f:[2000,1200,600,420],p:-3.9,w:1.1},
{t:[.092,.105,.118],f:[1300,650,400],p:-3.7,w:1.1},
{t:[.136,.141,.148],f:[2000,1200,550],p:-3.4,w:1.1},
{t:[.1485,.15],f:[2500,2000],p:-3.7,w:4},
{t:[.148,.152,.156,.159],f:[2000,1400,900,500],p:-3.3,w:5},
{t:[.1503,.152,.1525,.1545,.1555],f:[2000,1600,1300,1050,950],p:-2.1,w:2},
{t:[.1575,.1585],f:[1000,550],p:-2.6,w:3.5},
{t:[.158,.158],f:[950,650],p:-1.6,w:2},
{t:[.078,.078],f:[0,130],p:-2.4,w:.7},
{t:[.092,.092],f:[0,90],p:-2.5,w:.7},
{t:[.121,.121],f:[0,200],p:-2.5,w:.7},
{t:[.145,.145],f:[0,100],p:-2.6,w:.7},
{t:[.155,.155],f:[0,100],p:-2.6,w:.7}];
const ridgesC=[
{t:[.0185,.0185],f:[700,600],p:-5,w:1.2},
{t:[.04,.04],f:[700,600],p:-5.4,w:.9},
{t:[.049,.049],f:[780,640],p:-5.4,w:1.2},
{t:[.056,.056],f:[790,640],p:-5.4,w:1.2},
{t:[.0635,.0635],f:[800,720],p:-5.3,w:1.2},
{t:[.0714,.0714],f:[870,610],p:-4.1,w:2.2},
{t:[.0778,.0778],f:[780,560],p:-3.7,w:3},
{t:[.085,.085],f:[830,570],p:-4,w:2.8},
{t:[.0906,.0906],f:[830,590],p:-4.2,w:2},
{t:[.0942,.0942],f:[850,600],p:-3.9,w:2.5},
{t:[.0995,.0995],f:[810,570],p:-4.3,w:2.4},
{t:[.1043,.1043],f:[790,580],p:-4.5,w:2},
{t:[.109,.109],f:[790,580],p:-4.5,w:2},
{t:[.1155,.1155],f:[860,620],p:-3.9,w:2.2},
{t:[.1204,.1204],f:[760,550],p:-3.3,w:3},
{t:[.1236,.1236],f:[850,690],p:-4,w:2.4},
{t:[.1308,.1308],f:[840,570],p:-4.2,w:2.4},
{t:[.1388,.1388],f:[820,590],p:-4.3,w:2},
{t:[.1444,.1444],f:[870,670],p:-3.7,w:3},
{t:[.1484,.1484],f:[840,570],p:-4,w:2.4},
{t:[.1595,.1595],f:[900,530],p:-5,w:10},
{t:[.1595,.1595],f:[880,560],p:-4,w:8.5},
{t:[.16,.16],f:[840,610],p:-3,w:6.5},
{t:[.16,.16],f:[810,640],p:-2,w:5},
{t:[.16,.16],f:[780,660],p:-1.5,w:4},
{t:[.1155,.1195],f:[1900,1300],p:-5.2,w:.5},
{t:[.1505,.1525,.1555],f:[1950,1300,900],p:-5.2,w:.7},
{t:[.1507,.1507],f:[2080,2010],p:-2.9,w:1.4}];

const NS='http://www.w3.org/2000/svg';
const root=document.getElementById('plots');
const defs=document.getElementById('defs');
const frameColor='#868686';
const waveColor='#0072BD';
function mk(tag,parent,attrs){
  const el=document.createElementNS(NS,tag);
  for(const k in attrs){el.setAttribute(k,attrs[k]);}
  parent.appendChild(el);
  return el;
}
function clamp(v){return Math.max(0,Math.min(1,v));}
function jet(g){
  return [clamp(Math.min(4*g-1.5,-4*g+4.5)),clamp(Math.min(4*g-.5,-4*g+3.5)),clamp(Math.min(4*g+.5,-4*g+2.5))];
}
function grayOf(p){
  const v=Math.round(clamp((p+6)/6)*255);
  return 'rgb('+v+','+v+','+v+')';
}
function jetCss(p){
  const c=jet(clamp((p+6)/6));
  return 'rgb('+Math.round(c[0]*255)+','+Math.round(c[1]*255)+','+Math.round(c[2]*255)+')';
}
function linear(d0,d1,r0,r1){return v=>r0+(v-d0)/(d1-d0)*(r1-r0);}

(function buildFilters(){
  const f=mk('filter',defs,{id:'jet-map',x:'0',y:'0',width:'100%',height:'100%','color-interpolation-filters':'sRGB'});
  const ct=mk('feComponentTransfer',f,{});
  const tables=[[],[],[]];
  for(let i=0;i<=255;i++){const c=jet(i/255);tables[0].push(c[0].toFixed(3));tables[1].push(c[1].toFixed(3));tables[2].push(c[2].toFixed(3));}
  mk('feFuncR',ct,{type:'table',tableValues:tables[0].join(' ')});
  mk('feFuncG',ct,{type:'table',tableValues:tables[1].join(' ')});
  mk('feFuncB',ct,{type:'table',tableValues:tables[2].join(' ')});
  const b1=mk('filter',defs,{id:'blur-cells',x:'-5%',y:'-5%',width:'110%',height:'110%','color-interpolation-filters':'sRGB'});
  mk('feGaussianBlur',b1,{stdDeviation:'8 9'});
  const b2=mk('filter',defs,{id:'blur-fine',filterUnits:'userSpaceOnUse',x:'0',y:'0',width:'3020',height:'1749','color-interpolation-filters':'sRGB'});
  mk('feGaussianBlur',b2,{stdDeviation:'1.5'});
  const b3=mk('filter',defs,{id:'blur-ridge',filterUnits:'userSpaceOnUse',x:'0',y:'0',width:'3020',height:'1749','color-interpolation-filters':'sRGB'});
  mk('feGaussianBlur',b3,{stdDeviation:'2'});
})();

function drawFrame(g,ax,xt,yt,xs,ys){
  const box=mk('rect',g,{x:ax.x,y:ax.y,width:ax.w,height:ax.h,fill:'none',stroke:frameColor,'stroke-width':3});
  
  
  xt.forEach(v=>{
    const x=xs(v);
    const a=mk('line',g,{x1:x,x2:x,y1:ax.y+ax.h,y2:ax.y+ax.h-8,stroke:frameColor,'stroke-width':2.5});
    
    
    const b=mk('line',g,{x1:x,x2:x,y1:ax.y,y2:ax.y+8,stroke:frameColor,'stroke-width':2.5});
    
    
  });
  yt.forEach(v=>{
    const y=ys(v);
    const a=mk('line',g,{x1:ax.x,x2:ax.x+8,y1:y,y2:y,stroke:frameColor,'stroke-width':2.5});
    
    
    const b=mk('line',g,{x1:ax.x+ax.w,x2:ax.x+ax.w-8,y1:y,y2:y,stroke:frameColor,'stroke-width':2.5});
    
    
  });
}

function drawWave(id,ax,ylim,yTicks,yLabels,upper,lower,coreT,coreU,coreL){
  const g=mk('g',root,{});
  
  
  const xs=linear(0,.16,ax.x,ax.x+ax.w);
  const ys=linear(ylim[0],ylim[1],ax.y+ax.h,ax.y);
  const cp=mk('clipPath',defs,{id:'wave-clip-'+id});
  mk('rect',cp,{x:ax.x,y:ax.y,width:ax.w+4,height:ax.h});
  const inner=mk('g',g,{'clip-path':'url(#wave-clip-'+id+')'});
  if(upper.length){
    const pts=[];
    upper.forEach((u,i)=>{
      const t=i/(upper.length-1)*.16;
      pts.push(xs(t).toFixed(1)+','+ys(u).toFixed(1));
      pts.push((xs(t)+1.6).toFixed(1)+','+ys(lower[i]).toFixed(1));
    });
    const line=mk('polyline',inner,{points:pts.join(' '),fill:'none',stroke:waveColor,'stroke-width':2.4,'stroke-opacity':.6});
    
    
  }
  const poly=[];
  coreT.forEach((t,i)=>poly.push(xs(t).toFixed(1)+','+ys(coreU[i]).toFixed(1)));
  for(let i=coreT.length-1;i>=0;i--){poly.push(xs(coreT[i]).toFixed(1)+','+ys(coreL[i]).toFixed(1));}
  const core=mk('polygon',inner,{points:poly.join(' '),fill:waveColor,stroke:waveColor,'stroke-width':2});
  
  
  drawFrame(g,ax,timeTicks,yTicks,xs,ys);
  timeTicks.forEach((v,i)=>{
    const t=mk('text',g,{x:xs(v),y:ax.y+ax.h+48,'font-size':33,'text-anchor':'middle'});
    t.textContent=timeTickLabels[i];
    
    
  });
  yTicks.forEach((v,i)=>{
    const t=mk('text',g,{x:ax.x-13,y:ys(v)+12,'font-size':34,'text-anchor':'end'});
    t.textContent=yLabels[i];
    
    
  });
}

function drawSpectrogram(id,ax,cb,cells,bands,ridges){
  const g=mk('g',root,{});
  
  
  const xs=linear(0,.16,ax.x,ax.x+ax.w);
  const ys=linear(0,2500,ax.y+ax.h,ax.y);
  const over=40;
  const cp=mk('clipPath',defs,{id:'spec-clip-'+id});
  mk('rect',cp,{x:ax.x,y:ax.y,width:ax.w,height:ax.h});
  const clip=mk('g',g,{'clip-path':'url(#spec-clip-'+id+')'});
  const mapped=mk('g',clip,{filter:'url(#jet-map)'});
  const base=mk('rect',mapped,{x:ax.x-over,y:ax.y-over,width:ax.w+2*over,height:ax.h+2*over,fill:grayOf(-6)});
  
  
  const cellLayer=mk('g',mapped,{filter:'url(#blur-cells)'});
  const nRows=cells.length;
  cells.forEach((row,r)=>{
    const fTop=(nRows-r)*rowStep;
    const y0=ys(fTop);
    const y1=ys(fTop-rowStep);
    row.forEach((p,k)=>{
      const t0=cellStart+k*cellStep;
      const x0=xs(t0);
      const x1=xs(t0+cellStep)+(k===row.length-1?over:0);
      const top=r===0?y0-over:y0;
      const bottom=r===nRows-1?y1+over:y1;
      const shown=fTop>200?p+cellCalibration:p;
      const cell=mk('rect',cellLayer,{x:x0.toFixed(2),y:top.toFixed(2),width:(x1-x0+.6).toFixed(2),height:(bottom-top+.6).toFixed(2),fill:grayOf(shown)});
      
      
    });
  });
  const px=t=>t<=0?ax.x-over:(t>=.16?ax.x+ax.w+over:xs(t));
  const pyHi=f=>f>=2500?ax.y-over:ys(f);
  const pyLo=f=>f<=0?ax.y+ax.h+over:ys(f);
  const bandLayer=mk('g',mapped,{filter:'url(#blur-fine)'});
  bands.forEach(b=>{
    const pts=[];
    b.t.forEach((t,i)=>pts.push(px(t).toFixed(1)+','+pyHi(b.hi[i]).toFixed(1)));
    for(let i=b.t.length-1;i>=0;i--){pts.push(px(b.t[i]).toFixed(1)+','+pyLo(b.lo[i]).toFixed(1));}
    const poly=mk('polygon',bandLayer,{points:pts.join(' '),fill:grayOf(b.p)});
    
    
  });
  const ridgeLayer=mk('g',mapped,{filter:'url(#blur-ridge)',style:'mix-blend-mode:lighten'});
  ridges.forEach(rd=>{
    const pts=rd.t.map((t,i)=>xs(t).toFixed(1)+','+ys(rd.f[i]).toFixed(1));
    const line=mk('polyline',ridgeLayer,{points:pts.join(' '),fill:'none',stroke:grayOf(rd.p),'stroke-width':(rd.w/1000/.16*ax.w).toFixed(2),'stroke-linecap':'round','stroke-linejoin':'round'});
    
    
  });
  drawFrame(g,ax,timeTicks,freqTicks,xs,ys);
  timeTicks.forEach((v,i)=>{
    const X=xs(v)+17, Y=ax.y+ax.h+44;
    const t=mk('text',g,{transform:'translate('+X+','+Y+') rotate(-45)','font-size':33,'text-anchor':'end'});
    t.textContent=timeTickLabels[i];
    
    
  });
  freqTicks.forEach((v,i)=>{
    const t=mk('text',g,{x:ax.x-13,y:ys(v)+12,'font-size':34,'text-anchor':'end'});
    t.textContent=freqLabels[i];
    
    
  });
  const bar=mk('g',g,{});
  
  
  const yc=linear(-6,0,cb.y+cb.h,cb.y);
  for(let i=0;i<64;i++){
    const p0=-6+i*6/64;
    const p1=-6+(i+1)*6/64;
    const seg=mk('rect',bar,{x:cb.x,y:yc(p1).toFixed(2),width:cb.w,height:(yc(p0)-yc(p1)+.6).toFixed(2),fill:jetCss((p0+p1)/2)});
    
    
  }
  const cbFrame=mk('rect',bar,{x:cb.x,y:cb.y,width:cb.w,height:cb.h,fill:'none',stroke:'#999','stroke-width':3});
  
  
  powerTicks.forEach((v,i)=>{
    const tick=mk('line',bar,{x1:cb.x+cb.w-6,x2:cb.x+cb.w,y1:yc(v),y2:yc(v),stroke:'#555','stroke-width':2});
    
    
    const t=mk('text',bar,{x:cb.x+cb.w+16,y:yc(v)+14,'font-size':38,'text-anchor':'start'});
    t.textContent=powerLabels[i];
    
    
  });
}

drawWave('a',{x:154,y:29,w:764,h:612},[-1,.67],ampTicksAC,ampLabelsAC,upperA,lowerA,coreTimeA,coreUpperA,coreLowerA);
drawWave('b',{x:1163,y:29,w:762,h:612},[-.46,.448],ampTicksB,ampLabelsB,upperB,lowerB,coreTimeB,coreUpperB,coreLowerB);
drawWave('c',{x:2171,y:29,w:764,h:612},[-1,.67],ampTicksAC,ampLabelsAC,[],[],coreTimeC,coreUpperC,coreLowerC);
drawSpectrogram('a',{x:154,y:880,w:635,h:613},{x:837,y:880,w:36,h:613},powerA,bandsA,ridgesA);
drawSpectrogram('b',{x:1163,y:880,w:635,h:613},{x:1847,y:880,w:36,h:613},powerB,bandsB,ridgesB);
drawSpectrogram('c',{x:2170,y:880,w:636,h:613},{x:2854,y:880,w:36,h:613},powerC,bandsC,ridgesC);
</script>
</body></html>
